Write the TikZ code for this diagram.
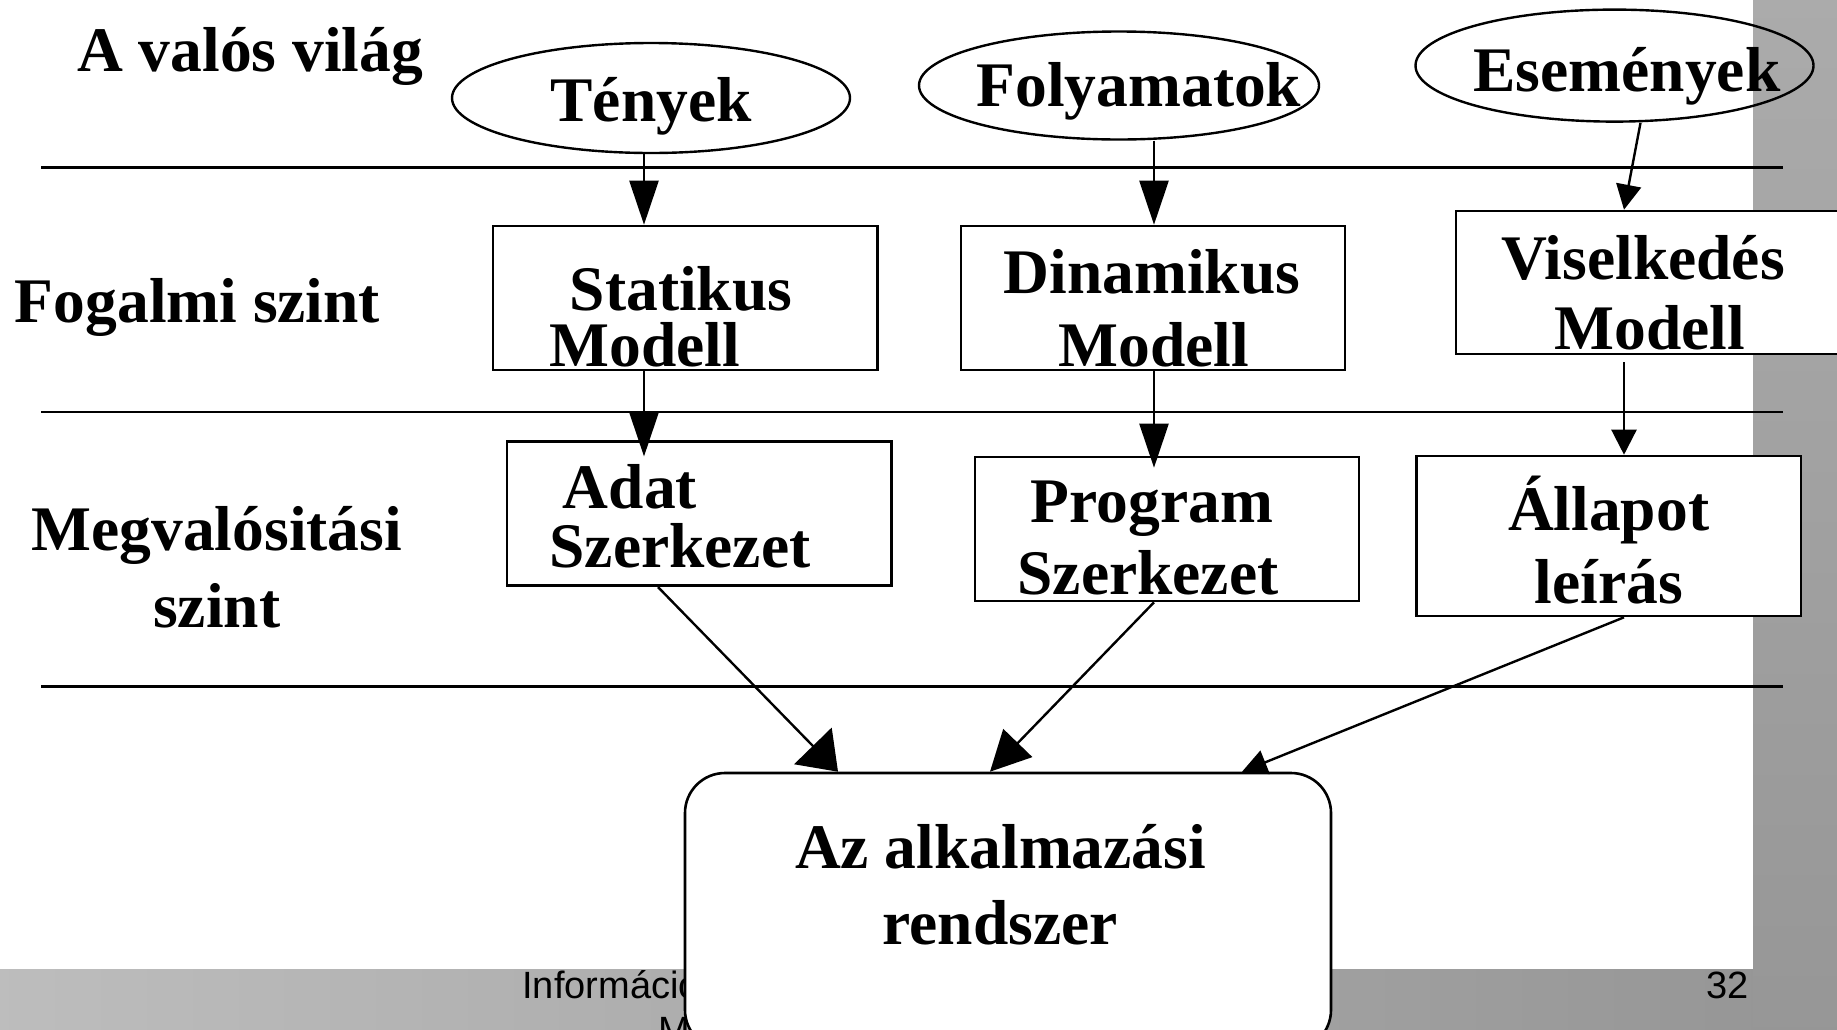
\documentclass[tikz,border=0pt]{standalone}
\usepackage{fontspec}
\setmainfont{Liberation Serif}
\newfontfamily\footfont{Liberation Sans}
\usetikzlibrary{shapes.geometric,arrows.meta,calc}
\definecolor{barlight}{gray}{0.74}
\definecolor{bardark}{gray}{0.59}
\definecolor{bartop}{gray}{0.67}

\begin{document}
\begin{tikzpicture}[x=0.5pt,y=-0.5pt,
    txt/.style={font=\fontsize{31.75}{36}\selectfont\bfseries, inner sep=0pt, anchor=base},
    blob/.style={draw, line width=1.2pt, ellipse, inner sep=0pt},
    box/.style={draw, line width=1.3pt, fill=white, rectangle, inner sep=0pt},
    foot/.style={font=\footfont\fontsize{19}{22}\selectfont, inner sep=0pt},
    tipbig/.style={line width=1.2pt, -{Triangle[length=22pt,width=14.5pt]}},
    tipsmall/.style={line width=1.2pt, -{Triangle[length=12.5pt,width=12.5pt]}},
    tipwide/.style={line width=1.2pt, -{Triangle[length=18pt,width=26pt]}},
    tipmid/.style={line width=1.2pt, -{Triangle[length=20pt,width=20pt]}}]
    \useasboundingbox (0,0) rectangle (1837,1029);

    % hatter
    \fill[white] (0,0) rectangle (1837,1029);
    \shade[left color=barlight, right color=bardark] (0,969) rectangle (1753,1029);
    \shade[top color=bartop, bottom color=bardark] (1753,0) rectangle (1837,1029);
    \node[foot, anchor=base west] (foot1) at (522,998) {Információs};
    \node[foot, anchor=base west] (foot2) at (658,1043) {Mo};
    \node[foot, anchor=base east] (pagenum) at (1749,998) {32};

    % szintek
    \draw[line width=1.3pt] (41,167.5) -- (1783,167.5);
    \draw[line width=1.3pt] (41,412) -- (1783,412);
    \draw[line width=1.3pt] (41,686.5) -- (1783,686.5);
    \node[txt] (valos) at (250,71.5) {A valós világ};
    \node[txt] (fogalmi) at (197.5,322) {Fogalmi szint};
    \node[txt] (megval1) at (216.7,550) {Megvalósitási};
    \node[txt] (megval2) at (216.7,627) {szint};

    % valos vilag
    \node[blob, minimum width=199pt, minimum height=55pt] (tenyek) at (651,98) {};
    \node[blob, minimum width=200pt, minimum height=54pt] (folyamatok) at (1119,85.5) {};
    \node[blob, minimum width=199pt, minimum height=56pt] (esemenyek) at (1614.5,65.6) {};
    \node[txt] (tenyek-t) at (651,121) {Tények};
    \node[txt] (folyamatok-t) at (1139,106.6) {Folyamatok};
    \node[txt] (esemenyek-t) at (1627,91.4) {Események};

    % fogalmi szint
    \node[box, minimum width=192.25pt, minimum height=72pt] (statikus) at (685.25,298) {};
    \node[box, minimum width=192pt, minimum height=72pt] (dinamikus) at (1152.85,298) {};
    \node[box, minimum width=197pt, minimum height=71.5pt] (viselkedes) at (1653,282.5) {};
    \node[txt] (statikus-1) at (681,310.5) {Statikus};
    \node[txt] (statikus-2) at (645,366.7) {Modell};
    \node[txt] (dinamikus-1) at (1152,293) {Dinamikus};
    \node[txt] (dinamikus-2) at (1154,366.7) {Modell};
    \node[txt] (viselkedes-1) at (1643,279) {Viselkedés};
    \node[txt] (viselkedes-2) at (1650,349) {Modell};

    % megvalositasi szint
    \node[box, minimum width=192.25pt, minimum height=72pt] (adat) at (699.25,513.75) {};
    \node[box, minimum width=192pt, minimum height=72pt] (program) at (1167,529) {};
    \node[box, minimum width=192.25pt, minimum height=80pt] (allapot) at (1608.75,536) {};
    \node[txt] (adat-1) at (630,508.5) {Adat};
    \node[txt] (adat-2) at (680,567) {Szerkezet};
    \node[txt] (program-1) at (1152,522.5) {Program};
    \node[txt] (program-2) at (1148,594) {Szerkezet};
    \node[txt] (allapot-1) at (1608.6,530.7) {Állapot};
    \node[txt] (allapot-2) at (1608.6,603.4) {leírás};

    % rendszer
    \node[box, rounded corners=20pt, minimum width=323pt, minimum height=138.5pt] (rendszer) at (1008,911.5) {};
    \node[txt] (rendszer-1) at (1000.5,868) {Az alkalmazási};
    \node[txt] (rendszer-2) at (1000,944) {rendszer};

    % nyilak
    \coordinate (colA) at (644,0);
    \coordinate (colB) at (1154,0);
    \coordinate (colC) at (1624,0);
    \draw[tipbig] (tenyek.south -| colA) -- (statikus.north -| colA);
    \draw[tipbig] (folyamatok.south -| colB) -- (dinamikus.north -| colB);
    \draw[tipsmall] ($(esemenyek.south)+(26,0)$) -- (viselkedes.north -| colC);
    \draw[tipbig, shorten >=-8pt] (statikus.south -| colA) -- (adat.north -| colA);
    \draw[tipbig, shorten >=-6pt] (dinamikus.south -| colB) -- (program.north -| colB);
    \draw[tipsmall, shorten <=3.5pt] (viselkedes.south -| colC) -- (allapot.north -| colC);
    \draw[tipwide] (adat.south -| 658,0) -- (rendszer.north -| 838,0);
    \draw[tipmid] (program.south -| colB) -- (rendszer.north -| 990,0);
    \draw[tipsmall] (allapot.south -| colC) -- (rendszer.north -| 1242,0);
\end{tikzpicture}
\end{document}
